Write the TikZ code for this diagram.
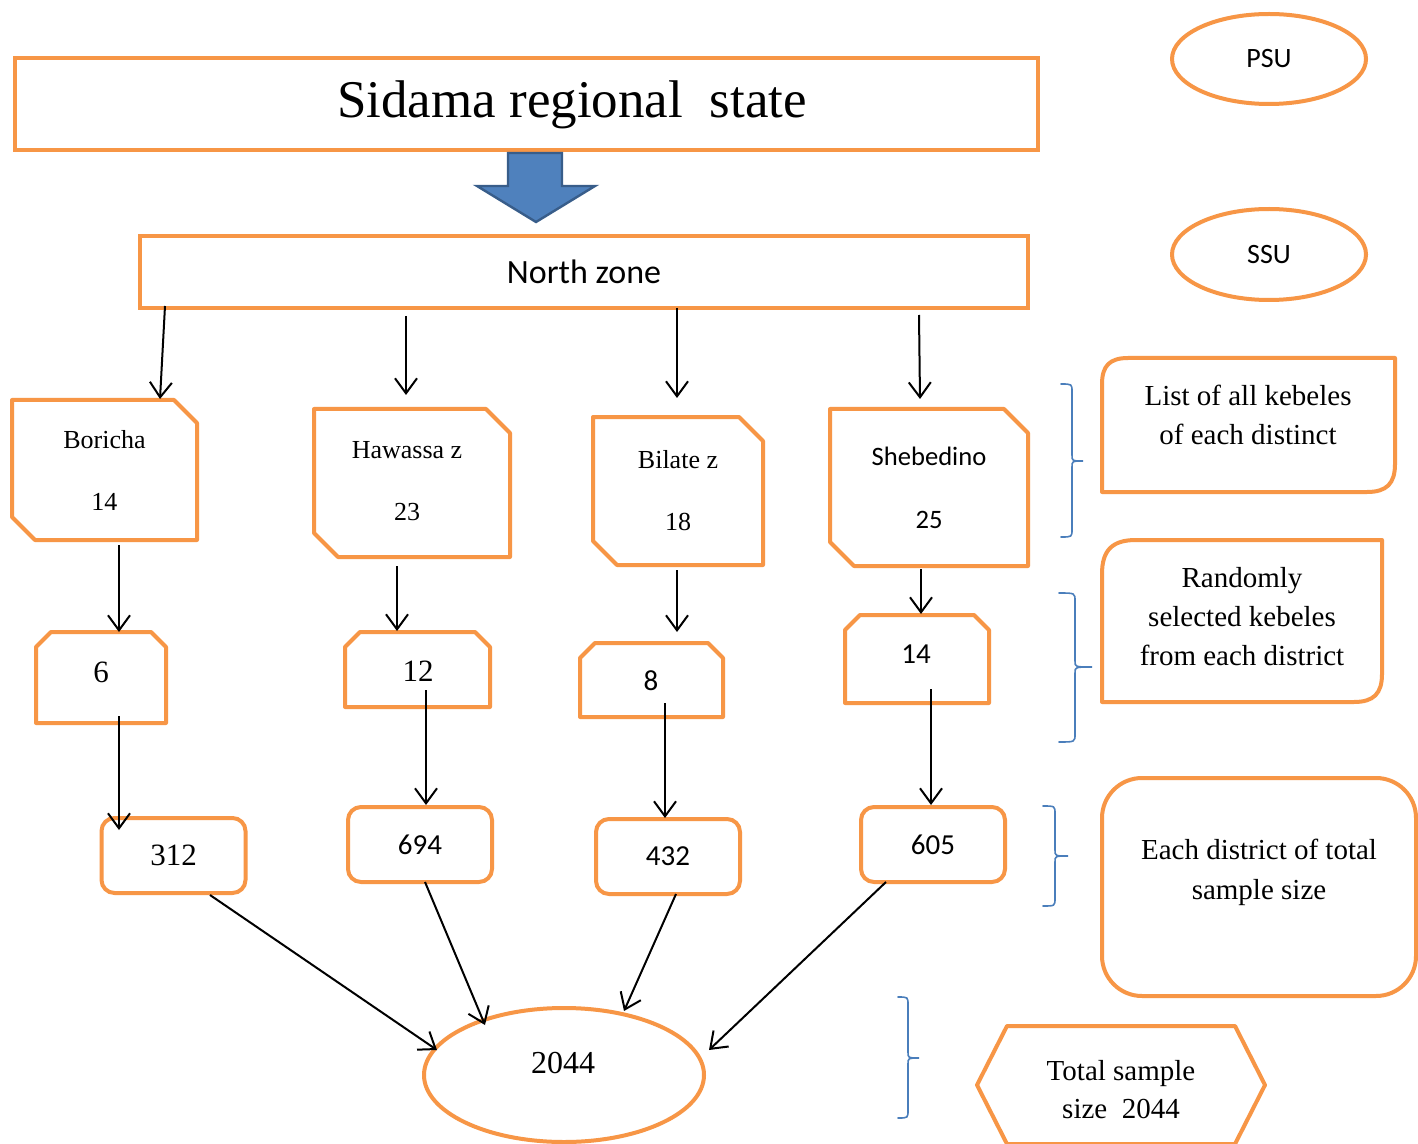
\documentclass[tikz,border=0pt]{standalone}
\usepackage{fontspec}
\setmainfont{Liberation Serif}
\newfontfamily\calfont{Carlito}
\usetikzlibrary{arrows.meta,calc,shapes.geometric,shadows}
\definecolor{org}{HTML}{F79646}
\definecolor{bfill}{HTML}{4F81BD}
\definecolor{bline}{HTML}{385D8A}
\definecolor{brc}{HTML}{4A7EBB}
\tikzset{
  obox/.style={draw=org, line width=2pt, line join=round},
  frame/.style={inner sep=0pt, outer sep=0pt, draw=none},
  arr/.style={draw=black, line width=1pt, -{Straight Barb[length=7.5pt,width=11pt,line width=1pt]}},
  bracepath/.style={draw=brc, line width=0.8pt, line cap=round},
  dist/.style={font=\fontsize{13}{31}\selectfont, align=center},
  cdist/.style={font=\calfont\fontsize{13.3}{31.5}\selectfont, align=center},
  tnum/.style={font=\fontsize{15.5}{18}\selectfont},
  cnum/.style={font=\calfont\fontsize{14.5}{17}\selectfont},
  rt/.style={font=\fontsize{14.5}{19.5}\selectfont, align=center},
  rbox/.style={frame, draw=org, line width=2pt, rounded corners=6.5pt, minimum width=72pt, minimum height=37.5pt}
}
\newcommand\snipTRBL[2]{\draw[obox] (#1.north west) -- ($(#1.north east)+(-#2,0)$) -- ($(#1.north east)+(0,#2)$) -- (#1.south east) -- ($(#1.south west)+(#2,0)$) -- ($(#1.south west)+(0,-#2)$) -- cycle;}
\newcommand\snipTop[2]{\draw[obox] (#1.south west) -- ($(#1.north west)+(0,#2)$) -- ($(#1.north west)+(#2,0)$) -- ($(#1.north east)+(-#2,0)$) -- ($(#1.north east)+(0,#2)$) -- (#1.south east) -- cycle;}
\newcommand\roundTLBR[3]{\draw[obox] (#1.south west) -- ($(#1.north west)+(0,#2)$) .. controls ($(#1.north west)+(0,0.3*#2)$) and ($(#1.north west)+(0.3*#2,0)$) .. ($(#1.north west)+(#2,0)$) -- (#1.north east) -- ($(#1.south east)+(0,-#3)$) .. controls ($(#1.south east)+(0,-0.3*#3)$) and ($(#1.south east)+(-0.3*#3,0)$) .. ($(#1.south east)+(-#3,0)$) -- cycle;}
\newcommand\mybrace[6]{\draw[bracepath] (#1,#4) .. controls (#2,#4) .. (#2,{#4+8}) -- (#2,{#5-6}) .. controls (#2,#5) .. (#3,#5) .. controls (#2,#5) .. (#2,{#5+6}) -- (#2,{#6-8}) .. controls (#2,#6) .. (#1,#6);}
\begin{document}
\begin{tikzpicture}[x=0.5pt,y=-0.5pt]
\useasboundingbox (0,0) rectangle (1418,1144);
\fill[white] (0,0) rectangle (1418,1144);

% top box
\node[frame, draw=org, line width=2pt, fill=white, drop shadow={shadow xshift=1pt, shadow yshift=-1.2pt, fill=black!30, opacity=1}, minimum width=511.5pt, minimum height=46pt] (sid) at (526.5,104) {};
\node[font=\fontsize{26.5}{30}\selectfont] (sidt) at (572,105) {Sidama regional\ \ state};

% block arrow
\draw[draw=bline, fill=bfill, line width=1.2pt, line join=miter] (508,153) -- (562,153) -- (562,186) -- (595,186) -- (536,222) -- (477,186) -- (508,186) -- cycle;

% north zone
\node[frame, draw=org, line width=2pt, minimum width=444pt, minimum height=36pt, font=\calfont\fontsize{17}{20}\selectfont] (nz) at (584,272) {North zone};

% PSU / SSU
\node[frame, ellipse, draw=org, line width=2pt, minimum width=97pt, minimum height=45pt, font=\calfont\fontsize{14}{17}\selectfont] (psu) at (1269,59) {PSU};
\node[frame, ellipse, draw=org, line width=2pt, minimum width=97pt, minimum height=45.5pt, font=\calfont\fontsize{14}{17}\selectfont] (ssu) at (1269,254.5) {SSU};

% districts
\node[frame, dist, minimum width=92.5pt, minimum height=70pt] (bor) at (104.5,470) {Boricha\\14};
\snipTRBL{bor}{23}
\node[frame, minimum width=98pt, minimum height=74pt] (haw) at (412,483) {};
\snipTRBL{haw}{24}
\node[dist] (hawt) at (407,481.5) {Hawassa z\\23};
\node[frame, dist, minimum width=85pt, minimum height=74pt] (bil) at (678,491) {Bilate z\\18};
\snipTRBL{bil}{24}
\node[frame, cdist, minimum width=99pt, minimum height=78.5pt] (she) at (929,487.5) {Shebedino\\25};
\snipTRBL{she}{24}

% kebeles
\node[frame, minimum width=65pt, minimum height=45.5pt] (k1) at (101,677.5) {};
\snipTop{k1}{15}
\node[tnum] (k1t) at (101,672) {6};
\node[frame, minimum width=72.5pt, minimum height=37.5pt] (k2) at (417.5,669.5) {};
\snipTop{k2}{15}
\node[tnum] (k2t) at (418,671) {12};
\node[frame, minimum width=71.5pt, minimum height=37pt] (k3) at (651.5,680) {};
\snipTop{k3}{15}
\node[cnum] (k3t) at (651,681) {8};
\node[frame, minimum width=72pt, minimum height=44pt] (k4) at (917,659) {};
\snipTop{k4}{15}
\node[cnum] (k4t) at (916,654) {14};

% samples
\node[rbox, tnum] (s1) at (173.5,855.5) {312};
\node[rbox, cnum] (s2) at (420,844.5) {694};
\node[rbox, cnum] (s3) at (668,856.5) {432};
\node[rbox, cnum] (s4) at (933,844.5) {605};

% total ellipse
\node[frame, ellipse, draw=org, line width=2pt, minimum width=140pt, minimum height=67pt] (tot) at (564,1075) {};
\node[font=\fontsize{16}{19}\selectfont] (tott) at (563,1063) {2044};

% right legend boxes
\node[frame, minimum width=146.5pt, minimum height=67pt] (lst) at (1248.5,425) {};
\roundTLBR{lst}{26}{28}
\node[rt] (lstt) at (1248,414.5) {List of all kebeles\\of each distinct};

\node[frame, minimum width=140pt, minimum height=81pt] (rnd) at (1242,621) {};
\roundTLBR{rnd}{34}{28}
\node[rt] (rndt) at (1242,617) {Randomly\\selected kebeles\\from each district};

\node[frame, draw=org, line width=2pt, rounded corners=20pt, minimum width=157pt, minimum height=109pt] (each) at (1259,887) {};
\node[rt, font=\fontsize{14.5}{20}\selectfont] (eacht) at (1259,872) {Each district of total\\sample size};

\node[frame, minimum width=144pt, minimum height=59pt] (hx) at (1121,1085) {};
\draw[obox] (hx.west) -- ($(hx.north west)+(30,0)$) -- ($(hx.north east)+(-30,0)$) -- (hx.east) -- ($(hx.south east)+(-30,0)$) -- ($(hx.south west)+(30,0)$) -- cycle;
\node[rt, font=\fontsize{14.5}{19}\selectfont] (hxt) at (1121,1090) {Total sample\\size\ \ 2044};

% braces
\mybrace{1061}{1072}{1083}{384}{461}{537}
\mybrace{1059}{1075}{1092}{593}{667}{742}
\mybrace{1043}{1055}{1068}{806}{856}{906}
\mybrace{898}{908}{919}{997}{1058}{1118}

% arrows: zone -> districts
\draw[arr] ($(nz.south west)+(25,-2)$) -- ($(bor.north)+(55.5,-1)$);
\draw[arr] ($(nz.south west)+(266,8)$) -- ($(haw.north)+(-6,-14)$);
\draw[arr] ($(nz.south west)+(537,0)$) -- ($(bil.north)+(-1,-19)$);
\draw[arr] ($(nz.south west)+(779,7)$) -- ($(she.north)+(-9,-10)$);
% districts -> kebeles
\draw[arr] ($(bor.south)+(14.5,5)$) -- ($(k1.north)+(18,0)$);
\draw[arr] ($(haw.south)+(-15,9)$) -- ($(k2.north)+(-20.5,-1)$);
\draw[arr] ($(bil.south)+(-1,5)$) -- ($(k3.north)+(25.5,-11)$);
\draw[arr] ($(she.south)+(-8,3)$) -- ($(k4.north)+(4,-1)$);
% kebeles -> samples
\draw[arr] ($(k1.south)+(18,-7)$) -- ($(s1.north)+(-54.5,12)$);
\draw[arr] ($(k2.south)+(8.5,-17)$) -- ($(s2.north)+(6,-2)$);
\draw[arr] ($(k3.south)+(13.5,-14)$) -- ($(s3.north)+(-3,-1)$);
\draw[arr] ($(k4.south)+(14,-14)$) -- ($(s4.north)+(-2,-2)$);
% samples -> total
\draw[arr] ($(s1.south)+(36.5,2)$) -- ($(tot.center)+(-127,-25)$);
\draw[arr] ($(s2.south)+(5,0)$) -- ($(tot.center)+(-79,-50)$);
\draw[arr] ($(s3.south)+(8,0)$) -- ($(tot.center)+(60,-64)$);
\draw[arr] ($(s4.south)+(-47,0)$) -- ($(tot.center)+(145,-25)$);
\end{tikzpicture}
\end{document}
